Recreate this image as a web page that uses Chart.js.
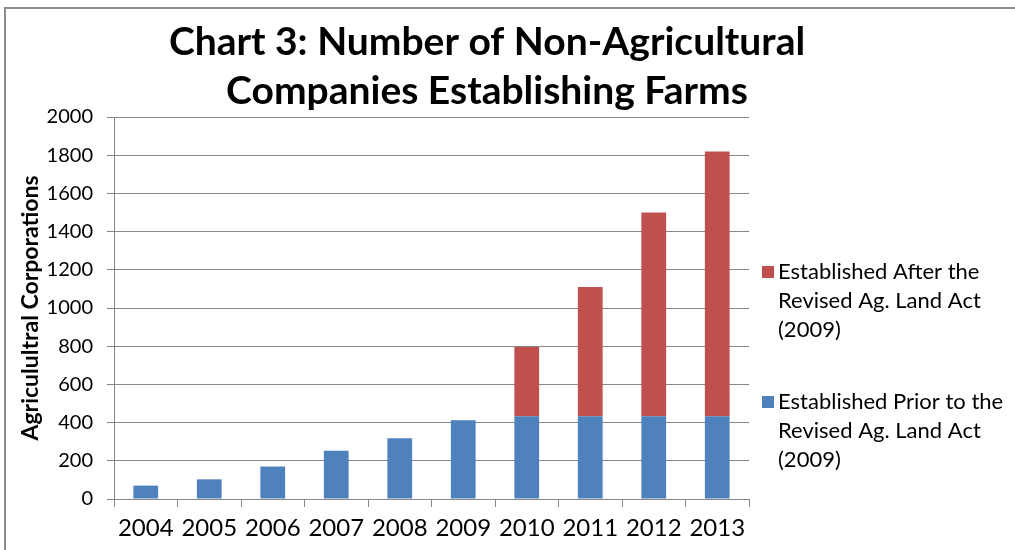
<!DOCTYPE html>
<html>
<head>
<meta charset="utf-8">
<script src="https://cdn.jsdelivr.net/npm/chart.js@4.4.1/dist/chart.umd.min.js"></script>
<style>
  html, body { margin: 0; padding: 0; background: #fff; }
  #wrap { position: relative; width: 1015px; height: 550px; overflow: hidden; }
  #frame { position: absolute; left: 4px; top: 7px; width: 1030px; height: 570px;
           border-left: 2px solid #8c8c8c; border-top: 2px solid #8c8c8c; }
  canvas { position: absolute; left: 0; top: 0; }
</style>
</head>
<body>
<div id="wrap">
  <div id="frame"></div>
  <canvas id="chart" width="1015" height="550"></canvas>
</div>
<script>
// values
const years = ['2004', '2005', '2006', '2007', '2008', '2009', '2010', '2011', '2012', '2013'];
const priorCounts = [70, 103, 170, 252, 318, 412, 433, 433, 433, 433];
const afterCounts = [null, null, null, null, null, null, 363, 677, 1067, 1387];

const titleLines = ['Chart 3: Number of Non-Agricultural', 'Companies Establishing Farms'];
const priorLabel = ['Established Prior to the', 'Revised Ag. Land Act', '(2009)'];
const afterLabel = ['Established After the', 'Revised Ag. Land Act', '(2009)'];
const yTitle = 'Agriculultral Corporations';

const FONT = 'Lato, "Noto Sans", sans-serif';
const BLUE = '#4f81bd';
const RED = '#c0504d';
const GRID = '#878787';

// title drawn centred over the chart like the Excel original
const titlePlugin = {
  id: 'excelTitle',
  afterDraw(chart) {
    const ctx = chart.ctx;
    ctx.save();
    ctx.fillStyle = '#000';
    ctx.font = 'bold 39px ' + FONT;
    ctx.textAlign = 'center';
    ctx.textBaseline = 'alphabetic';
    ctx.fillText(titleLines[0], 487, 55, 642);
    ctx.fillText(titleLines[1], 487, 104, 532);
    ctx.restore();
  }
};

// legend on the right, wrapped over three lines, red entry first
const legendPlugin = {
  id: 'wrapLegend',
  afterDraw(chart) {
    const ctx = chart.ctx;
    const items = [chart.data.datasets[1], chart.data.datasets[0]];
    const tops = [272, 402];
    ctx.save();
    ctx.font = '22px ' + FONT;
    ctx.textBaseline = 'middle';
    ctx.textAlign = 'left';
    items.forEach((ds, i) => {
      ctx.fillStyle = ds.backgroundColor;
      ctx.fillRect(762, tops[i] - 6, 12, 12);
      ctx.fillStyle = '#000';
      ds.label.forEach((line, j) => ctx.fillText(line, 778, tops[i] + j * 29));
    });
    ctx.restore();
  }
};

new Chart(document.getElementById('chart'), {
  type: 'bar',
  data: {
    labels: years,
    datasets: [
      { label: priorLabel, data: priorCounts, backgroundColor: BLUE },
      { label: afterLabel, data: afterCounts, backgroundColor: RED }
    ]
  },
  options: {
    responsive: false,
    animation: false,
    categoryPercentage: 1,
    barPercentage: 0.39,
    layout: { padding: { left: 5, top: 117, right: 266, bottom: 0 } },
    plugins: {
      legend: { display: false },
      title: { display: false },
      tooltip: { enabled: false }
    },
    scales: {
      x: {
        stacked: true,
        grid: { offset: true, drawOnChartArea: false, tickLength: 8, color: GRID },
        border: { color: GRID },
        ticks: { color: '#000', font: { family: FONT, size: 24 }, padding: 7 },
        afterFit(scale) { scale.height = 51; }
      },
      y: {
        stacked: true,
        min: 0,
        max: 2000,
        ticks: {
          stepSize: 200, color: '#000', font: { family: FONT, size: 20 }, padding: 14,
          callback: v => String(v)
        },
        grid: { color: GRID, tickLength: 7 },
        border: { color: GRID },
        title: {
          display: true, text: yTitle, color: '#000',
          font: { family: FONT, size: 23, weight: 'bold' },
          padding: { top: 12, bottom: 0 }
        },
        afterFit(scale) { scale.width = 109; }
      }
    }
  },
  plugins: [titlePlugin, legendPlugin]
});
</script>
</body>
</html>
